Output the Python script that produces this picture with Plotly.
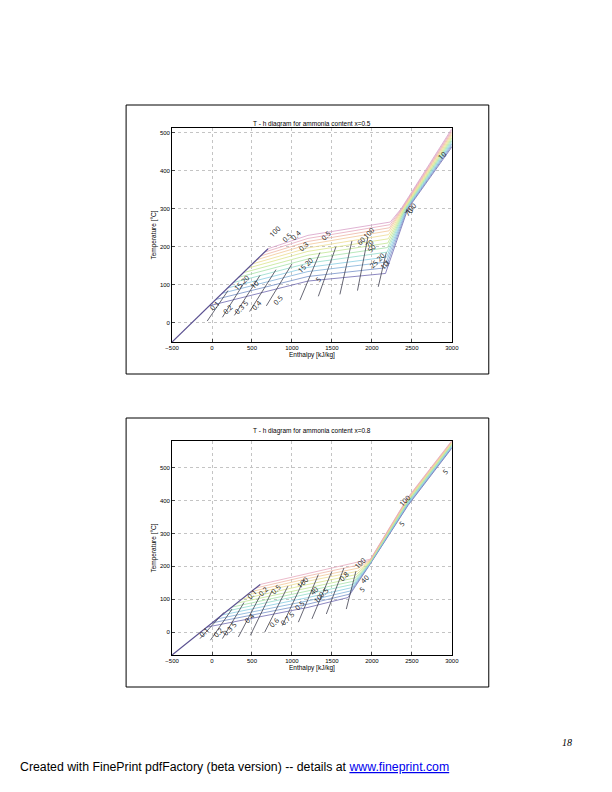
import plotly.graph_objects as go

# ── Data: chart 1 (x=0.5) ─────────────────────────────────────────────
A_liq_h = [-500, 701]
A_liq_t = [-50, 195]
A_hb = [-34, 49, 127, 196, 265, 333, 392, 451, 505, 559, 608, 657, 701]
A_tb = [45, 62, 78, 92, 106, 120, 132, 144, 155, 166, 176, 186, 195]
A_tm = [110, 122, 135, 146, 157, 168, 178, 188, 197, 206, 214, 222, 230]   # at h=1200
A_hd = [2170, 2175, 2180, 2185, 2190, 2195, 2200, 2205, 2210, 2215, 2220, 2225, 2230]
A_td = [130, 145, 160, 173, 186, 198, 210, 221, 232, 242, 250, 258, 265]
A_h300 = [2450, 2443, 2436, 2429, 2422, 2415, 2408, 2401, 2394, 2387, 2380, 2373, 2366]
A_tv = [462, 466, 470, 474, 478, 482, 486, 490, 494, 498, 502, 506, 510]  # at h=3000
A_q = [(-60, 5, 200, 85), (130, 15, 400, 105), (280, 20, 600, 125), (470, 30, 800, 140),
       (680, 45, 1000, 155), (1100, 60, 1350, 185), (1330, 70, 1550, 200),
       (1600, 75, 1750, 215), (1820, 85, 1950, 225), (2080, 95, 2180, 185)]
A_lab = [(40, 45, "0.1"), (200, 35, "0.2"), (370, 40, "0.3 5"), (560, 45, "0.4"), (820, 60, "0.5"),
         (540, 100, "10"), (380, 105, "15 20"), (1170, 150, "15 20"), (1330, 115, "5"),
         (1150, 200, "0.3"), (1430, 230, "0.5"), (940, 225, "0.5"), (1050, 230, "0.4"),
         (790, 240, "100"), (1960, 235, "100"), (1970, 210, "70"), (2000, 195, "50"),
         (1860, 215, "60"), (2070, 165, "25 20"), (2160, 150, "10"), (2190, 160, "1"),
         (2490, 300, "100"), (2460, 290, "70"), (2880, 440, "10")]

# ── Data: chart 2 (x=0.8) ─────────────────────────────────────────────
B_liq_h = [-500, 603]
B_liq_t = [-70, 145]
B_hb = [-64, 3, 64, 126, 187, 249, 310, 372, 433, 490, 546, 603]
B_tb = [15, 28, 40, 52, 64, 76, 88, 100, 112, 123, 134, 145]
B_tm = [75, 85, 95, 105, 115, 125, 135, 145, 155, 163, 171, 178]
B_hd = [1700, 1715, 1730, 1745, 1760, 1775, 1790, 1805, 1820, 1835, 1850, 1865]
B_td = [105, 115, 125, 135, 145, 155, 165, 175, 185, 195, 205, 215]
B_h2 = [1960, 1962, 1964, 1966, 1968, 1970, 1972, 1974, 1976, 1978, 1980, 1982]
B_t2 = [200, 202, 204, 206, 208, 210, 212, 214, 216, 218, 220, 222]
B_t24 = [385, 387, 390, 392, 395, 397, 400, 402, 404, 406, 408, 410]  # at h=2450
B_tv = [560, 562, 564, 567, 569, 571, 573, 575, 577, 579, 581, 583]  # at h=3000
B_q = [(-150, -20, 150, 60), (-20, -25, 250, 70), (130, -20, 400, 90), (330, -15, 600, 110),
       (480, -10, 750, 125), (660, 0, 950, 140), (880, 20, 1150, 160), (1080, 30, 1330, 175),
       (1250, 40, 1500, 185), (1430, 55, 1650, 195), (1680, 70, 1800, 185)]
B_lab = [(-100, 0, "0.1"), (80, 0, "0.2"), (230, 10, "0.3 5"), (470, 40, "0.4"), (780, 30, "0.6"),
         (950, 40, "0.7 5"), (1100, 80, "0.5"), (1400, 120, "0.5"), (1650, 170, "0.8"),
         (1140, 150, "100"), (500, 115, "0.1"), (640, 125, "0.2"), (800, 130, "0.5"),
         (1270, 125, "40"), (1320, 100, "10"), (1850, 210, "100"), (1910, 160, "40"),
         (1880, 130, "5"), (2420, 400, "100"), (2380, 330, "5"), (2920, 490, "5")]

COLORS = ["#6f68b0", "#7590c8", "#80b0d8", "#88cde2", "#92dccc", "#a6e2a8",
          "#c2e694", "#dce58c", "#eedc92", "#f2c898", "#eeb6a6", "#e6a8bc", "#d8a0c8"]


# page pixel -> paper coordinate (compensates the renderer offset)
def pxx(x):
    return ((x - 14.8) / 0.978) / 612


def pxy(y):
    return 1 - (y - 8) / 792


fig = go.Figure()


def add_chart(xa, ya, hs, ts, qs, labs, liq_h, liq_t):
    for i, (h, t) in enumerate(zip(hs, ts)):
        fig.add_trace(go.Scatter(x=h, y=t, mode="lines", xaxis=xa, yaxis=ya,
                                 line=dict(color=COLORS[i % len(COLORS)], width=0.8),
                                 showlegend=False, hoverinfo="skip"))
    for x0, y0, x1, y1 in qs:
        fig.add_trace(go.Scatter(x=[x0, x1], y=[y0, y1], mode="lines", xaxis=xa, yaxis=ya,
                                 line=dict(color="#404050", width=0.8),
                                 showlegend=False, hoverinfo="skip"))
    fig.add_trace(go.Scatter(x=liq_h, y=liq_t, mode="lines", xaxis=xa, yaxis=ya,
                             line=dict(color="#5a5090", width=1.2),
                             showlegend=False, hoverinfo="skip"))
    for x, y, s in labs:
        fig.add_annotation(x=x, y=y, xref=xa, yref=ya.replace("axis", ""), text=s,
                           showarrow=False, textangle=-45,
                           font=dict(size=7, color="#111"))


hs1 = [[hb, 1200, hd, h3, 3000] for hb, hd, h3 in zip(A_hb, A_hd, A_h300)]
ts1 = [[tb, tm, td, 300, tv] for tb, tm, td, tv in zip(A_tb, A_tm, A_td, A_tv)]
add_chart("x", "y", hs1, ts1, A_q, A_lab, A_liq_h, A_liq_t)

hs2 = [[hb, 1200, hd, h2, 2450, 3000] for hb, hd, h2 in zip(B_hb, B_hd, B_h2)]
ts2 = [[tb, tm, td, t2, t4, tv] for tb, tm, td, t2, t4, tv in zip(B_tb, B_tm, B_td, B_t2, B_t24, B_tv)]
add_chart("x2", "y2", hs2, ts2, B_q, B_lab, B_liq_h, B_liq_t)

ax = dict(showgrid=True, gridcolor="#c4c4c4", griddash="dot", gridwidth=0.6,
          showline=True, mirror=True, linecolor="black", linewidth=0.8,
          ticks="inside", ticklen=3, tickfont=dict(size=6, family="Arial", color="black"),
          zeroline=False)
xt = dict(range=[-500, 3000], tickvals=[-500, 0, 500, 1000, 1500, 2000, 2500, 3000],
          title=dict(text="Enthalpy [kJ/kg]", font=dict(size=6.5, family="Arial", color="black"),
                     standoff=2))
yt = dict(title=dict(text="Temperature [°C]", font=dict(size=6.5, family="Arial", color="black"),
                     standoff=2),
          tickvals=[0, 100, 200, 300, 400, 500])

fig.update_layout(
    width=612, height=792, margin=dict(l=0, r=0, t=0, b=0),
    paper_bgcolor="white", plot_bgcolor="white",
    xaxis=dict(**ax, **xt, domain=[pxx(172), pxx(452)], anchor="y"),
    yaxis=dict(**ax, **yt, range=[-50, 512], domain=[pxy(342), pxy(128)], anchor="x"),
    xaxis2=dict(**ax, **xt, domain=[pxx(172), pxx(452)], anchor="y2"),
    yaxis2=dict(**ax, **yt, range=[-70, 582], domain=[pxy(655), pxy(441)], anchor="x2"),
)

for y0, y1 in [(105, 374), (418, 687)]:
    fig.add_shape(type="rect", xref="paper", yref="paper", x0=pxx(126), x1=pxx(489),
                  y0=pxy(y1), y1=pxy(y0), line=dict(color="black", width=1))

for yt_, txt in [(118, "T - h diagram for ammonia content x=0.5"),
                 (431, "T - h diagram for ammonia content x=0.8")]:
    fig.add_annotation(x=pxx(312), y=pxy(yt_), xref="paper", yref="paper", text=txt,
                       showarrow=False, font=dict(size=6.5, family="Arial", color="black"))

fig.add_annotation(x=pxx(574), y=pxy(750), xref="paper", yref="paper", text="<i>18</i>",
                   showarrow=False, xanchor="right",
                   font=dict(size=10, family="Liberation Serif", color="black"))
fig.add_annotation(x=pxx(18), y=pxy(776), xref="paper", yref="paper", xanchor="left",
                   text="Created with FinePrint pdfFactory (beta version) -- details at "
                        "<span style='color:#0000ee'><u>www.fineprint.com</u></span>",
                   showarrow=False, font=dict(size=12.3, family="Liberation Sans", color="black"))

fig.write_html("out.html")
